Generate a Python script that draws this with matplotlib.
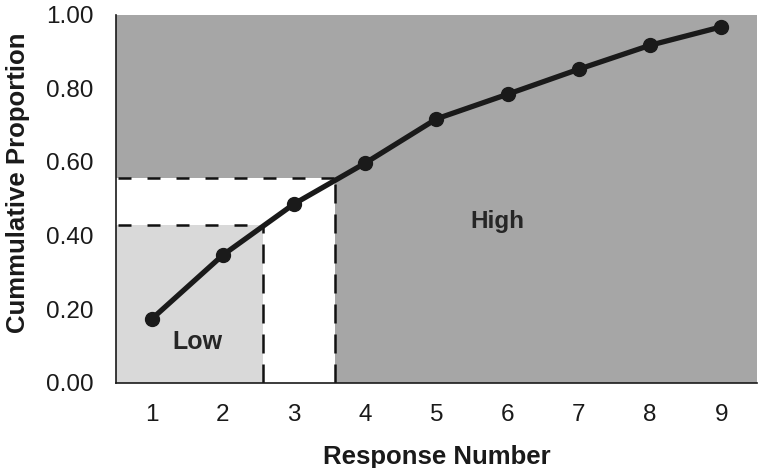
import numpy as np
import matplotlib
matplotlib.use('Agg')
import matplotlib.pyplot as plt

# --- data ---
responses = [1, 2, 3, 4, 5, 6, 7, 8, 9]
cum_prop = [0.173, 0.347, 0.486, 0.597, 0.717, 0.784, 0.852, 0.917, 0.967]
yticks = [0.0, 0.2, 0.4, 0.6, 0.8, 1.0]

# region cut points (x = response number, y = cumulative proportion)
low_x, low_y = 2.57, 0.43
mid_x, mid_y = 3.57, 0.557

plt.rcParams['font.family'] = ['Liberation Sans', 'DejaVu Sans']

fig = plt.figure(figsize=(7.6, 4.68), dpi=100)
ax = fig.add_axes([0.1526, 0.182, 0.8434, 0.7866])

x0, x1 = 0.5, 9.5
ax.set_facecolor('#a6a6a6')

# white band, then light "Low" box on top
ax.fill_between([x0, mid_x], 0, mid_y, color='white', lw=0, zorder=1)
ax.fill_between([x0, low_x], 0, low_y, color='#d9d9d9', lw=0, zorder=1)

hdash = dict(color='#111111', lw=1.8, dashes=(5.2, 6.4), zorder=2)
vdash = dict(color='#111111', lw=1.8, dashes=(7.6, 4.4), zorder=2)
ax.plot([x0 + 0.03, mid_x], [mid_y, mid_y], **hdash)
ax.plot([mid_x, mid_x], [0, mid_y], **vdash)
ax.plot([x0 + 0.03, low_x], [low_y, low_y], **hdash)
ax.plot([low_x, low_x], [0, low_y], **vdash)

ax.plot(responses, cum_prop, color='#1a1a1a', lw=3.8, marker='o', ms=10,
        zorder=3, clip_on=False)

ax.text(1.65, 0.11, 'Low', ha='center', va='center', fontsize=18,
        fontweight='bold', color='#262626')
ax.text(5.86, 0.437, 'High', ha='center', va='center', fontsize=17.5,
        fontweight='bold', color='#262626')

ax.set_xlim(x0, x1)
ax.set_ylim(0, 1.0)
ax.set_xticks(responses)
ax.set_yticks(yticks)
ax.set_yticklabels([f'{v:.2f}' for v in yticks])
ax.tick_params(length=0, labelsize=17.5, colors='#1a1a1a')
ax.tick_params(axis='x', pad=15)
ax.tick_params(axis='y', pad=16)

for s in ['top', 'right']:
    ax.spines[s].set_visible(False)
for s in ['left', 'bottom']:
    ax.spines[s].set_color('#1a1a1a')
    ax.spines[s].set_linewidth(1.2)

ax.set_xlabel('Response Number', fontsize=18.5, fontweight='bold',
              color='#1a1a1a', labelpad=14)
ax.set_ylabel('Cummulative Proportion', fontsize=18.5, fontweight='bold',
              color='#1a1a1a')
ax.yaxis.set_label_coords(-0.134, 0.543)

fig.savefig('out.png', dpi=100)
